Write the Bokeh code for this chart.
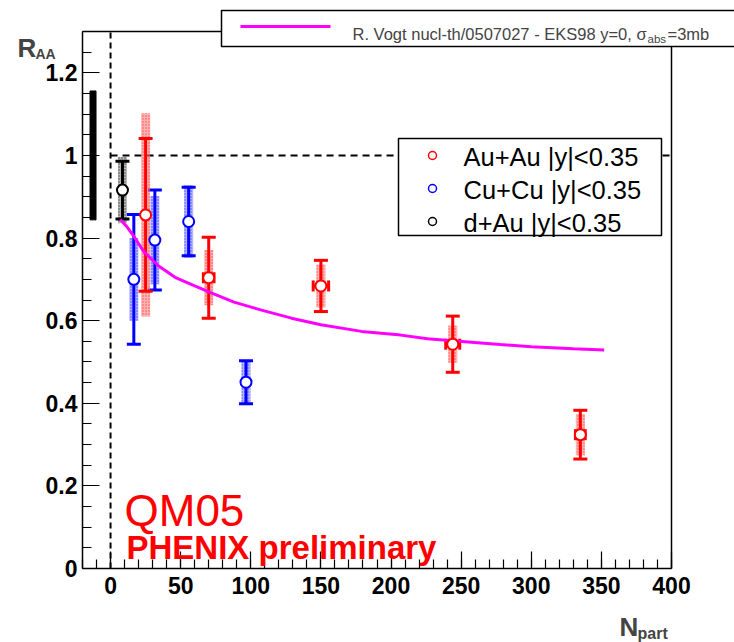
import numpy as np
from bokeh.plotting import figure
from bokeh.models import Label, FixedTicker, Range1d
from bokeh.embed import file_html
from bokeh.resources import INLINE

# ---------------- data ----------------
au_npart = [25.0, 70.0, 150.0, 244.0, 335.0]
au_raa = [0.856, 0.704, 0.684, 0.543, 0.324]
au_stat = [0.185, 0.098, 0.062, 0.068, 0.059]
au_syst = [0.246, 0.067, 0.052, 0.045, 0.050]
au_xerr = [0.0, 3.8, 5.5, 5.0, 3.5]

cu_npart = [16.6, 31.6, 55.7, 96.6]
cu_raa = [0.700, 0.795, 0.840, 0.451]
cu_stat = [0.157, 0.121, 0.083, 0.052]
cu_syst = [0.100, 0.107, 0.088, 0.053]

da_npart = [8.5]
da_raa = [0.916]
da_stat = [0.070]
da_syst = [0.080]

glob_x = [-12.5]
glob_center = [1.0]
glob_half = [0.156]

theo_npart = [7, 12, 17, 24, 34, 46, 60, 74, 88, 107, 129, 150, 179, 207, 226, 264, 278, 300, 330, 352]
theo_raa = [0.845, 0.826, 0.802, 0.766, 0.733, 0.705, 0.684, 0.664, 0.645, 0.626,
            0.606, 0.590, 0.574, 0.565, 0.556, 0.546, 0.542, 0.537, 0.532, 0.529]

x_ticks = [0, 50, 100, 150, 200, 250, 300, 350, 400]
y_ticks = [0, 0.2, 0.4, 0.6, 0.8, 1.0, 1.2]

XMIN, XMAX, YMIN, YMAX = -20, 400, 0, 1.3
W, H = 734, 642
FL, FR, FT, FB = 82, 671, 31, 568


def dx(px):
    return XMIN + (px - FL) * (XMAX - XMIN) / (FR - FL)


def dy(py):
    return YMIN + (FB - py) * (YMAX - YMIN) / (FB - FT)


p = figure(width=W, height=H,
           x_range=Range1d(dx(0), dx(W)), y_range=Range1d(dy(H), dy(0)),
           output_backend="svg", toolbar_location=None,
           min_border_left=0, min_border_right=0, min_border_top=0, min_border_bottom=0)
p.title.visible = False
p.xgrid.visible = False
p.ygrid.visible = False
p.outline_line_color = None
p.background_fill_color = "white"
p.border_fill_color = "white"

p.xaxis.fixed_location = YMIN
p.xaxis.bounds = (XMIN, XMAX)
p.yaxis.fixed_location = XMIN
p.yaxis.bounds = (YMIN, YMAX)

for ax, ticks, minors in ((p.xaxis, x_ticks, [v for v in range(-20, 401, 10)]),
                          (p.yaxis, y_ticks, [round(v * 0.05, 2) for v in range(0, 27)])):
    ax.ticker = FixedTicker(ticks=ticks, minor_ticks=minors)
    ax.major_tick_in = 17
    ax.major_tick_out = 0
    ax.minor_tick_in = 9
    ax.minor_tick_out = 0
    ax.axis_line_width = 1.5
    ax.major_tick_line_width = 1.2
    ax.minor_tick_line_width = 1.2
    ax.major_label_text_font = "Liberation Sans"
    ax.major_label_text_font_style = "bold"
    ax.major_label_text_font_size = "23px"
    ax.major_label_text_color = "black"
p.xaxis.major_label_standoff = 8
p.yaxis.major_label_standoff = 5
p.yaxis.major_label_overrides = {0: "0", 1.0: "1"}

# frame top / right edges
p.line([XMIN, XMAX], [YMAX, YMAX], line_color="black", line_width=1.5)
p.line([XMAX, XMAX], [YMIN, YMAX], line_color="black", line_width=1.5)

# reference dashed lines
p.line([0, 0], [YMIN, YMAX], line_color="black", line_width=2, line_dash="6 4")
p.line([0, 400], [1.0, 1.0], line_color="black", line_width=2, line_dash="7 5")

# global uncertainty box
p.rect(x=glob_x, y=glob_center, width=6, width_units="screen",
       height=[2 * h for h in glob_half], fill_color="black", line_color="black")


def series(xs, ys, stat, syst, color, band_color, xerr=None):
    p.rect(x=xs, y=ys, width=9, width_units="screen", height=[2 * s for s in syst],
           fill_color=band_color, fill_alpha=0.6, line_color=None,
           hatch_pattern="dot", hatch_color=color, hatch_alpha=0.6, hatch_scale=3)
    lo = [y - s for y, s in zip(ys, stat)]
    hi = [y + s for y, s in zip(ys, stat)]
    p.segment(x0=xs, y0=lo, x1=xs, y1=hi, line_color=color, line_width=3)
    p.scatter(x=xs + xs, y=lo + hi, marker="dash", size=14, line_color=color, line_width=3)
    if xerr is not None:
        xe = [(x, y, e) for x, y, e in zip(xs, ys, xerr) if e > 0]
        if xe:
            x0 = [x - e for x, y, e in xe]
            x1 = [x + e for x, y, e in xe]
            yy = [y for x, y, e in xe]
            p.segment(x0=x0, y0=yy, x1=x1, y1=yy, line_color=color, line_width=3)
            p.scatter(x=x0 + x1, y=yy + yy, marker="dash", angle=np.pi / 2, size=11,
                      line_color=color, line_width=3)


series(da_npart, da_raa, da_stat, da_syst, "black", "#888888")
series(cu_npart, cu_raa, cu_stat, cu_syst, "blue", "#8080ff")
series(au_npart, au_raa, au_stat, au_syst, "red", "#ff8080", au_xerr)

p.line(theo_npart, theo_raa, line_color="magenta", line_width=3)

for xs, ys, c in ((da_npart, da_raa, "black"), (cu_npart, cu_raa, "blue"), (au_npart, au_raa, "red")):
    p.scatter(x=xs, y=ys, marker="circle", size=11, fill_color="white", line_color=c, line_width=2)

# in-frame legend
p.quad(left=[dx(398)], right=[dx(661)], top=[dy(138)], bottom=[dy(235)],
       fill_color="white", line_color="black", line_width=1.5)
leg_rows = [("Au+Au |y|<0.35", "red", 155), ("Cu+Cu |y|<0.35", "blue", 188), ("d+Au |y|<0.35", "black", 221)]
for txt, c, py in leg_rows:
    p.scatter(x=[dx(432)], y=[dy(py)], marker="circle", size=8, fill_color="white",
              line_color=c, line_width=1.5)
    p.add_layout(Label(x=dx(463), y=dy(py + 1), text=txt, text_font="Liberation Sans",
                       text_font_size="25.5px", text_baseline="middle", text_color="black"))

# top legend (theory)
p.quad(left=[dx(221)], right=[dx(760)], top=[dy(10)], bottom=[dy(46)],
       fill_color="white", line_color="black", line_width=1.5)
p.line([dx(240), dx(330)], [dy(26), dy(26)], line_color="magenta", line_width=3)
p.add_layout(Label(x=dx(352), y=dy(33), text="R. Vogt nucl-th/0507027 - EKS98 y=0, \u03c3",
                   text_font="Liberation Sans", text_font_size="16.5px", text_baseline="alphabetic"))
p.add_layout(Label(x=dx(647), y=dy(38), text="abs", text_font="Liberation Sans",
                   text_font_size="11.5px", text_baseline="alphabetic"))
p.add_layout(Label(x=dx(667), y=dy(33), text="=3mb", text_font="Liberation Sans",
                   text_font_size="16.5px", text_baseline="alphabetic"))

# axis titles
p.add_layout(Label(x=dx(17), y=dy(47), text="R", text_font="Liberation Sans", text_font_style="bold",
                   text_font_size="26px", text_baseline="alphabetic"))
p.add_layout(Label(x=dx(35), y=dy(53), text="AA", text_font="Liberation Sans", text_font_style="bold",
                   text_font_size="14px", text_baseline="alphabetic"))
p.add_layout(Label(x=dx(619), y=dy(626), text="N", text_font="Liberation Sans", text_font_style="bold",
                   text_font_size="26px", text_baseline="alphabetic"))
p.add_layout(Label(x=dx(637), y=dy(633), text="part", text_font="Liberation Sans", text_font_style="bold",
                   text_font_size="16px", text_baseline="alphabetic"))

# annotations
p.add_layout(Label(x=dx(124), y=dy(510), text="QM05", text_font="Liberation Sans",
                   text_font_size="44px", text_color="red", text_baseline="alphabetic"))
p.add_layout(Label(x=dx(126), y=dy(547), text="PHENIX preliminary", text_font="Liberation Sans",
                   text_font_style="bold", text_font_size="33px", text_color="red",
                   text_baseline="alphabetic"))

open("out.html", "w").write(file_html(p, INLINE))
